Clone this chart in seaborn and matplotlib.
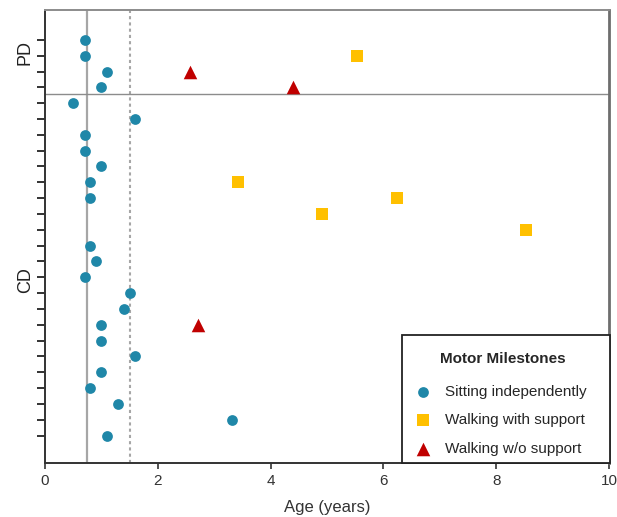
import numpy as np
import pandas as pd
import seaborn as sns
import matplotlib.pyplot as plt
from matplotlib.patches import Rectangle
from matplotlib.transforms import blended_transform_factory

# one row per patient, top to bottom (rows 1-4 PD, rows 5-26 CD)
rows = list(range(26))
sitting = [0.71, 0.70, 1.10, 1.00, 0.50, 1.60, 0.70, 0.70, 1.00, 0.80,
           0.80, None, None, 0.80, 0.90, 0.70, 1.50, 1.40, 1.00, 1.00,
           1.60, 1.00, 0.80, 1.30, 3.32, 1.10]
walk_with_rows = [1, 9, 10, 11, 12]
walk_with = [5.53, 3.42, 6.24, 4.92, 8.52]
walk_wo_rows = [2, 3, 18]
walk_wo = [2.57, 4.40, 2.71]

group_labels = ["PD", "CD"]
group_pos = [0.8, 15.2]
x_ticks = [0, 2, 4, 6, 8, 10]

sit_df = pd.DataFrame({"age": sitting, "row": rows}).dropna()
with_df = pd.DataFrame({"age": walk_with, "row": walk_with_rows})
wo_df = pd.DataFrame({"age": walk_wo, "row": walk_wo_rows})

sns.set_style("white")
plt.rcParams["font.family"] = ["Liberation Sans", "DejaVu Sans"]

fig = plt.figure(figsize=(6.17, 5.17), dpi=100)
ax = fig.add_axes([0.073, 0.104, 0.914, 0.877])

# reference lines
ax.axvline(0.75, color="#a6a6a6", lw=1.6, zorder=1)
ax.axvline(1.5, color="#a6a6a6", lw=1.5, ls=(0, (1.5, 1.5)), zorder=1)
ax.axhline(3.45, color="#8c8c8c", lw=1.0, zorder=1)

sns.scatterplot(data=sit_df, x="age", y="row", marker="o", s=60, color="#1f87a8",
                linewidth=0, label="Sitting independently", ax=ax, zorder=3)
sns.scatterplot(data=with_df, x="age", y="row", marker="s", s=80, color="#ffc000",
                linewidth=0, label="Walking with support", ax=ax, zorder=3)
sns.scatterplot(data=wo_df, x="age", y="row", marker="^", s=95, color="#c00000",
                linewidth=0, label="Walking w/o support", ax=ax, zorder=3)

ax.set_xlim(0, 10)
ax.set_ylim(26.75, -1.9)
ax.set_xticks(x_ticks)
ax.set_xticklabels([str(t) for t in x_ticks], fontsize=11, color="#333333")
ax.set_yticks(rows)
ax.set_yticklabels([])
ax.tick_params(axis="y", left=True, length=6, width=1.4, color="#333333")
ax.tick_params(axis="x", bottom=True, length=4, width=1.2, color="#333333")
ax.set_xlabel("Age (years)", fontsize=12, color="#333333", labelpad=9)
ax.set_ylabel("")

for side in ["left", "bottom"]:
    ax.spines[side].set_color("#333333")
    ax.spines[side].set_linewidth(1.4)
ax.spines["top"].set_color("#8c8c8c")
ax.spines["top"].set_linewidth(1.4)
ax.spines["right"].set_color("#6e6e6e")
ax.spines["right"].set_linewidth(2.0)

trans = blended_transform_factory(ax.transAxes, ax.transData)
for lab, pos in zip(group_labels, group_pos):
    ax.text(-0.02, pos, lab, transform=trans, rotation=90, ha="right",
            va="center", fontsize=13, color="#222222")

# legend box drawn separately so the padding can match the original
ax.add_patch(Rectangle((0.633, 0.0), 0.369, 0.283, transform=ax.transAxes,
                       facecolor="white", edgecolor="#222222", lw=1.3,
                       clip_on=False, zorder=4))
leg = ax.legend(loc="lower right", bbox_to_anchor=(0.9876, -0.0177),
                borderaxespad=0, frameon=False,
                title="Motor Milestones", fontsize=11, title_fontsize=11,
                labelspacing=0.95, handletextpad=1.2, borderpad=1.0,
                handlelength=0.5)
leg.set_zorder(5)
leg.get_title().set_fontweight("bold")
leg._legend_box.sep = 13.5

plt.savefig("out.png", dpi=100)
